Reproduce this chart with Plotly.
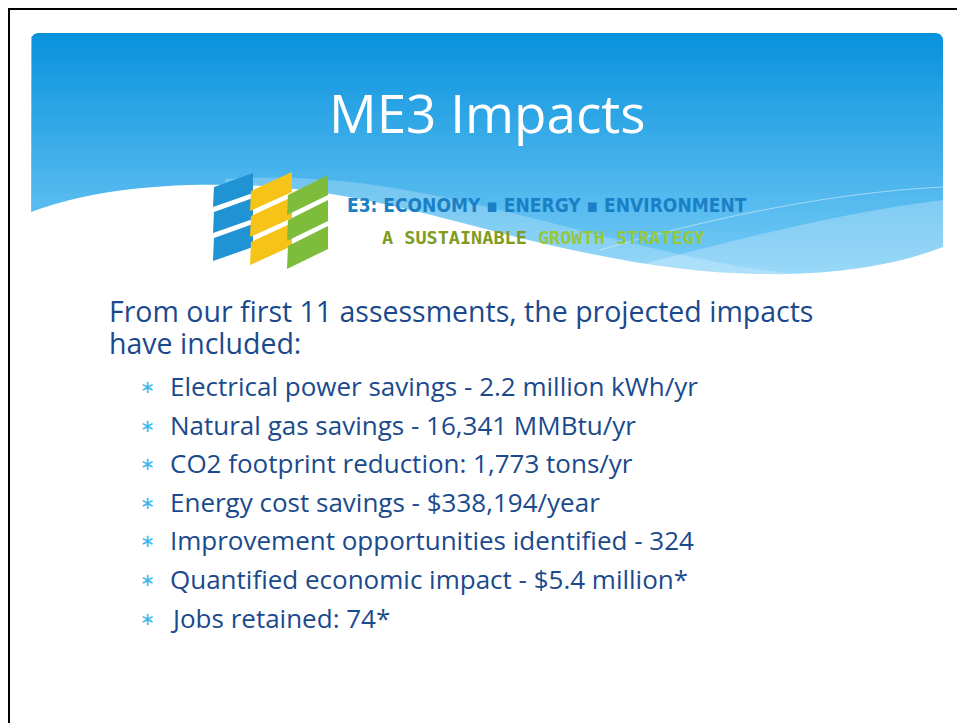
import numpy as np
import plotly.graph_objects as go

# slide content
title = "ME3 Impacts"
logo_line1 = "E3: ECONOMY ▪ ENERGY ▪ ENVIRONMENT"
logo_line2_a = "A SUSTAINABLE"
logo_line2_b = "GROWTH STRATEGY"
intro_lines = ["From our first 11 assessments, the projected impacts", "have included:"]
bullet_items = [
    "Electrical power savings - 2.2 million kWh/yr",
    "Natural gas savings - 16,341 MMBtu/yr",
    "CO2 footprint reduction: 1,773 tons/yr",
    "Energy cost savings - $338,194/year",
    "Improvement opportunities identified - 324",
    "Quantified economic impact - $5.4 million*",
    "Jobs retained: 74*",
]

W, H = 957, 723
TEXT_BLUE = "#1b4a8c"
BULLET_BLUE = "#3db5ef"
BODY_FONT = "Open Sans, Lato, sans-serif"

fig = go.Figure()

# header panel with rounded top corners and vertical gradient
x0, x1, y0, y1, r = 31, 943, 33, 285, 7
t = np.linspace(0, np.pi / 2, 10)
hx = [x0, x0] + list(x0 + r - r * np.cos(t)) + list(x1 - r + r * np.sin(t)) + [x1, x1]
hy = [y1, y0 + r] + list(y0 + r - r * np.sin(t)) + list(y0 + r - r * np.cos(t)) + [y0 + r, y1]
fig.add_trace(go.Scatter(
    x=hx, y=hy, mode="lines", fill="toself", line=dict(width=0),
    fillgradient=dict(type="vertical", start=33, stop=280,
                      colorscale=[[0, "#0892dd"], [1, "#7acdf7"]]),
    hoverinfo="skip", showlegend=False,
))

shapes = []
# light translucent wave bands
shapes.append(dict(type="path", layer="above", line=dict(width=0),
                   fillcolor="rgba(255,255,255,0.22)",
                   path="M 225,179 C 330,172 420,190 520,215 C 620,240 720,268 800,274 "
                        "L 800,290 L 225,290 Z"))
shapes.append(dict(type="path", layer="above", line=dict(width=0),
                   fillcolor="rgba(255,255,255,0.25)",
                   path="M 560,285 C 700,250 820,215 943,200 L 943,290 Z"))
shapes.append(dict(type="path", layer="above", line=dict(color="rgba(255,255,255,0.45)", width=1),
                   path="M 600,250 C 720,215 840,192 943,187"))
# white wave covering lower part of header
shapes.append(dict(type="path", layer="above", line=dict(width=0), fillcolor="white",
                   path="M 31,212 C 90,190 160,183 240,185 C 340,188 430,215 520,238 "
                        "C 620,262 700,276 790,274 C 860,272 910,260 943,247 "
                        "L 943,292 L 31,292 Z"))

# logo blocks: (x_left, x_right, y_top_left, y_top_right, colour)
blocks = [
    (214, 253, 187, 173, "#1f93d3"),
    (251, 292, 191, 172, "#f6c419"),
    (288, 328, 195, 175, "#7dbd3b"),
]
segs = [(0, 20), (25, 46), (51, 74)]
for xl, xr, ytl, ytr, col in blocks:
    for a, b in segs:
        shapes.append(dict(type="path", layer="above", line=dict(width=0), fillcolor=col,
                           path=f"M {xl},{ytl + a} L {xr},{ytr + a} L {xr},{ytr + b} "
                                f"L {xl - 1},{ytl + b} Z"))

# slide border
shapes.append(dict(type="path", layer="above", line=dict(color="black", width=2),
                   path=f"M 9,{H} L 9,9 L {W},9"))

annotations = []
annotations.append(dict(x=487, y=112, text=title, showarrow=False, xanchor="center",
                        yanchor="middle", font=dict(family=BODY_FONT, size=53, color="white")))
annotations.append(dict(x=345, y=205, text=f"<b>{logo_line1}</b>", showarrow=False,
                        xanchor="left", yanchor="middle",
                        font=dict(family="DejaVu Sans Condensed, Liberation Sans Narrow, sans-serif",
                                  size=19, color="#1a80c6")))
annotations.append(dict(x=380, y=237,
                        text=f"<b><span style='color:#7f9c1e'>{logo_line2_a}</span> "
                             f"<span style='color:#95c83a'>{logo_line2_b}</span></b>",
                        showarrow=False, xanchor="left", yanchor="middle",
                        font=dict(family="DejaVu Sans Mono, monospace", size=18.5)))

intro_y = [311, 343]
for line, yy in zip(intro_lines, intro_y):
    annotations.append(dict(x=107, y=yy, text=line, showarrow=False, xanchor="left",
                            yanchor="middle",
                            font=dict(family=BODY_FONT, size=28.5, color=TEXT_BLUE)))

bullet_y = [386, 425, 463, 502, 540, 579, 618]
for item, yy in zip(bullet_items, bullet_y):
    annotations.append(dict(x=147, y=yy, text="∗", showarrow=False, xanchor="center",
                            yanchor="middle", font=dict(family="DejaVu Sans", size=18, color=BULLET_BLUE)))
    annotations.append(dict(x=168, y=yy, text=item, showarrow=False, xanchor="left",
                            yanchor="middle", font=dict(family=BODY_FONT, size=26, color=TEXT_BLUE)))

fig.update_layout(
    width=W, height=H, margin=dict(l=0, r=0, t=0, b=0),
    paper_bgcolor="white", plot_bgcolor="white",
    xaxis=dict(range=[0, W], visible=False, fixedrange=True),
    yaxis=dict(range=[H, 0], visible=False, fixedrange=True),
    shapes=shapes, annotations=annotations, showlegend=False,
)

fig.write_html("out.html", config={"displayModeBar": False},
               post_script="document.body.style.margin='0';")
